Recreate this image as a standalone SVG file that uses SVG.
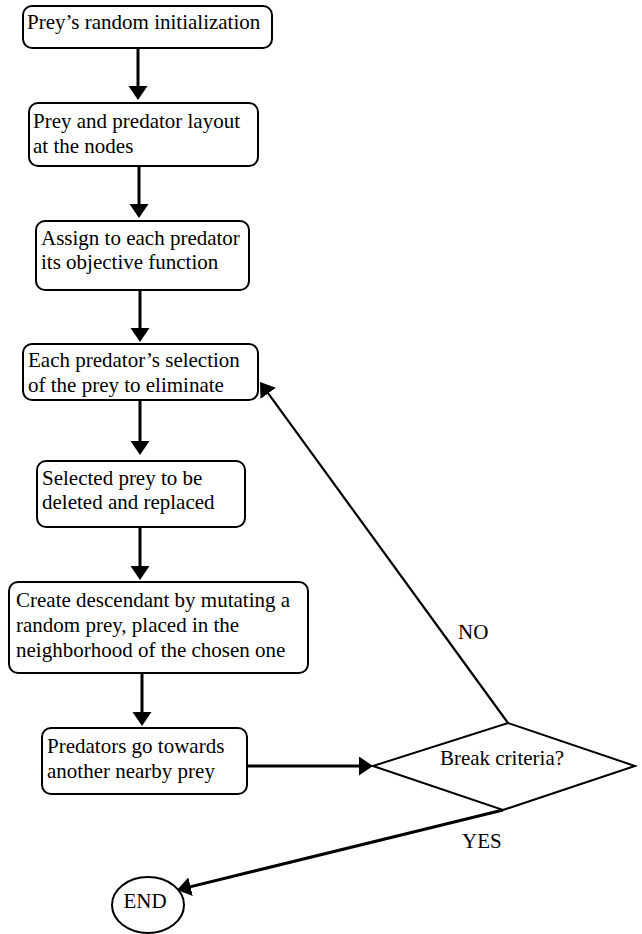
<svg xmlns="http://www.w3.org/2000/svg" width="642" height="934" viewBox="0 0 642 934">
<style>
text { font-family: "Liberation Serif", "Times New Roman", serif; font-size: 21px; fill: #000; }
.box { fill: #fff; stroke: #000; stroke-width: 2; }
.conn { fill: none; stroke: #000; stroke-width: 3; }
.thin { stroke-width: 2.2; }
</style>
<defs>
<marker id="arr" markerUnits="userSpaceOnUse" markerWidth="16" markerHeight="20" refX="8" refY="9.5" orient="auto">
<path d="M0,0 L14,9.5 L0,19 Z" fill="#000"/>
</marker>
</defs>
<rect width="642" height="934" fill="#fff"/>
<g id="connectors">
<line class="conn" x1="138" y1="48" x2="138" y2="94" marker-end="url(#arr)"/>
<line class="conn" x1="139" y1="166" x2="139" y2="212" marker-end="url(#arr)"/>
<line class="conn" x1="140" y1="290" x2="140" y2="336" marker-end="url(#arr)"/>
<line class="conn" x1="140" y1="400" x2="140" y2="449" marker-end="url(#arr)"/>
<line class="conn" x1="140" y1="527" x2="140" y2="574" marker-end="url(#arr)"/>
<line class="conn" x1="142" y1="673" x2="142" y2="720" marker-end="url(#arr)"/>
<line class="conn" x1="247" y1="766" x2="367" y2="766" marker-end="url(#arr)"/>
<line class="conn thin" x1="508" y1="723" x2="263.5" y2="386.9" marker-end="url(#arr)"/>
<line class="conn" x1="503" y1="810" x2="182.8" y2="888.6" marker-end="url(#arr)"/>
<text x="458" y="639">NO</text>
<text x="462" y="848">YES</text>
</g>
<g id="n1">
<rect class="box" x="23" y="6" width="249" height="42" rx="9"/>
<text x="27" y="29">Prey’s random initialization</text>
</g>
<g id="n2">
<rect class="box" x="29" y="103" width="229" height="63" rx="9"/>
<text x="33" y="128">Prey and predator layout</text>
<text x="33" y="153">at the nodes</text>
</g>
<g id="n3">
<rect class="box" x="36" y="221" width="213" height="69" rx="9"/>
<text x="41" y="245">Assign to each predator</text>
<text x="41" y="269">its objective function</text>
</g>
<g id="n4">
<rect class="box" x="23" y="344" width="235" height="56" rx="9"/>
<text x="28" y="367">Each predator’s selection</text>
<text x="28" y="392">of the prey to eliminate</text>
</g>
<g id="n5">
<rect class="box" x="37" y="461" width="208" height="66" rx="9"/>
<text x="42" y="485">Selected prey to be</text>
<text x="42" y="509">deleted and replaced</text>
</g>
<g id="n6">
<rect class="box" x="9" y="582" width="299" height="91" rx="9"/>
<text x="16" y="607">Create descendant by mutating a</text>
<text x="16" y="632">random prey, placed in the</text>
<text x="16" y="657">neighborhood of the chosen one</text>
</g>
<g id="n7">
<rect class="box" x="42" y="728" width="205" height="66" rx="9"/>
<text x="47" y="753">Predators go towards</text>
<text x="47" y="778">another nearby prey</text>
</g>
<g id="decision">
<polygon class="box" points="373,766 508,723 635,766 503,810"/>
<text x="502" y="765" text-anchor="middle">Break criteria?</text>
</g>
<g id="end">
<ellipse class="box" cx="148" cy="905" rx="36" ry="28"/>
<text x="145" y="908" text-anchor="middle">END</text>
</g>
</svg>
